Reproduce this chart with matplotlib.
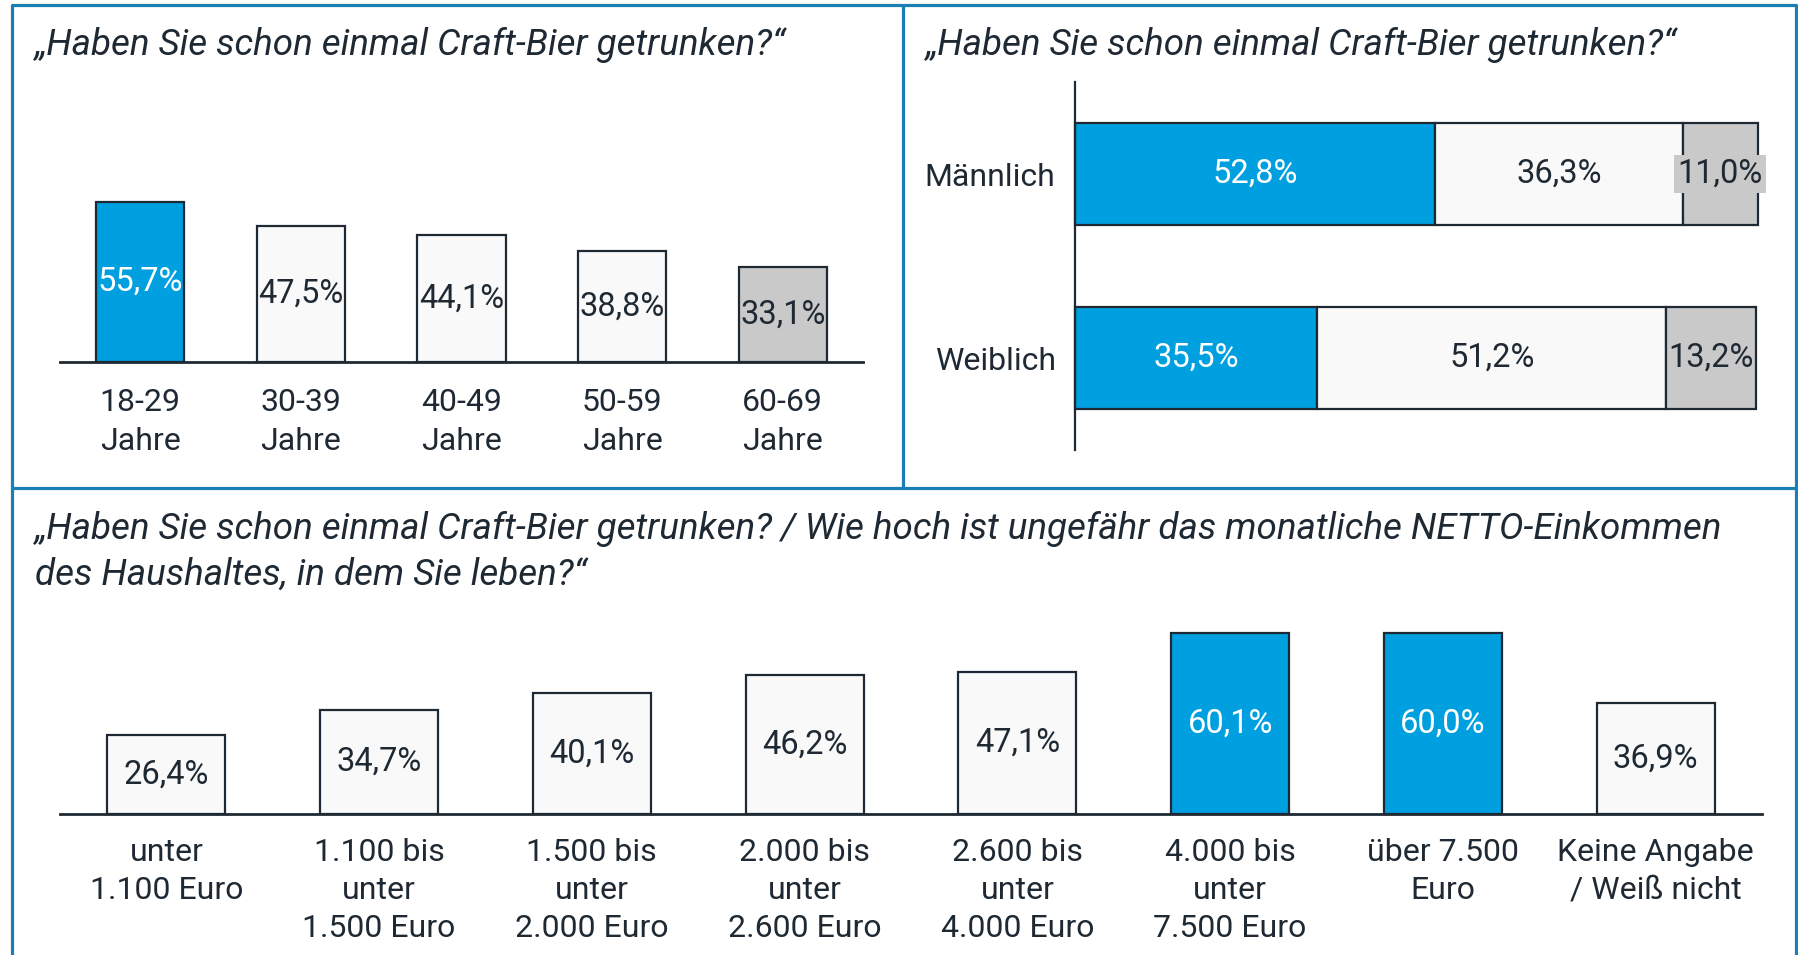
#!/usr/bin/env python
# coding: utf-8

r"""Craft-Bier survey charts"""

import matplotlib.pyplot as plt
from matplotlib.lines import Line2D

plt.rcParams['font.family'] = ['Roboto', 'DejaVu Sans']

# data
age_labels = ['18-29\nJahre', '30-39\nJahre', '40-49\nJahre', '50-59\nJahre', '60-69\nJahre']
age_values = [55.7, 47.5, 44.1, 38.8, 33.1]
age_kinds = ['blue', 'light', 'light', 'light', 'gray']

sex_labels = ['Männlich', 'Weiblich']
sex_yes = [52.8, 35.5]
sex_no = [36.3, 51.2]
sex_na = [11.0, 13.2]

inc_labels = ['unter\n1.100 Euro', '1.100 bis\nunter\n1.500 Euro', '1.500 bis\nunter\n2.000 Euro',
              '2.000 bis\nunter\n2.600 Euro', '2.600 bis\nunter\n4.000 Euro', '4.000 bis\nunter\n7.500 Euro',
              'über 7.500\nEuro', 'Keine Angabe\n/ Weiß nicht']
inc_values = [26.4, 34.7, 40.1, 46.2, 47.1, 60.1, 60.0, 36.9]
inc_kinds = ['light'] * 5 + ['blue', 'blue', 'light']

title_1 = '„Haben Sie schon einmal Craft-Bier getrunken?“'
title_2 = ('„Haben Sie schon einmal Craft-Bier getrunken? / Wie hoch ist ungefähr das monatliche NETTO-Einkommen\n'
           'des Haushaltes, in dem Sie leben?“')

colors = {'blue': '#009fdf', 'light': '#f9f9f9', 'gray': '#c9c9c9'}
text_col = {'blue': 'white', 'light': '#1e2933', 'gray': '#1e2933'}
dark = '#1e2933'
frame = '#1a80b4'

W, H = 1799, 955
fig = plt.figure(figsize=(W / 100, H / 100), dpi=100)


def box(x0, y0, x1, y1):
    return [x0 / W, 1 - y1 / H, (x1 - x0) / W, (y1 - y0) / H]


def fline(xs, ys):
    fig.add_artist(Line2D([x / W for x in xs], [1 - y / H for y in ys],
                          color=frame, lw=2.3, solid_capstyle='butt'))


# frame
fline([12.5, 12.5, 1796, 1796], [970, 5, 5, 970])
fline([903.5, 903.5], [5, 488.5])
fline([12.5, 1796], [488.5, 488.5])

# titles
fig.text(35 / W, 1 - 45 / H, title_1, fontsize=26.5, style='italic', color=dark, va='center')
fig.text(926 / W, 1 - 45 / H, title_1, fontsize=26.5, style='italic', color=dark, va='center')
fig.text(35 / W, 1 - 552 / H, title_2, fontsize=26.5, style='italic', color=dark, va='center',
         linespacing=1.33)

LBL = 23.5
TICK = 23


def column_chart(rect, labels, values, kinds, scale, width, pad):
    x0, y0, x1, y1 = rect
    ax = fig.add_axes(box(x0, y0, x1, y1))
    ax.set_facecolor('none')
    n = len(values)
    xs = list(range(n))
    ax.bar(xs, values, width=width, color=[colors[k] for k in kinds],
           edgecolor=dark, linewidth=1.6, zorder=2)
    for x, v, k in zip(xs, values, kinds):
        ax.text(x, v / 2, ('%.1f%%' % v).replace('.', ','), ha='center', va='center',
                fontsize=LBL, color=text_col[k], zorder=3)
    ax.set_xlim(-0.5, n - 0.5)
    ax.set_ylim(0, (y1 - y0) / scale)
    for s in ('left', 'right', 'top'):
        ax.spines[s].set_visible(False)
    ax.spines['bottom'].set_linewidth(2)
    ax.spines['bottom'].set_color(dark)
    ax.spines['bottom'].set_zorder(4)
    ax.set_yticks([])
    ax.set_xticks(xs)
    ax.set_xticklabels(labels, fontsize=TICK, color=dark, linespacing=1.4)
    ax.tick_params(axis='x', length=0, pad=pad)
    return ax


column_chart((60, 82, 863, 362), age_labels, age_values, age_kinds, 2.87, 0.55, 19)
column_chart((60, 560, 1762, 814), inc_labels, inc_values, inc_kinds, 3.01, 0.555, 17)

# stacked horizontal bars
ax = fig.add_axes(box(1075, 82, 1757, 450))
ax.set_facecolor('none')
ys = list(range(len(sex_labels)))
left = [0.0] * len(ys)
for vals, kind in ((sex_yes, 'blue'), (sex_no, 'light'), (sex_na, 'gray')):
    ax.barh(ys, vals, left=left, height=0.556, color=colors[kind], edgecolor=dark,
            linewidth=1.6, zorder=2, clip_on=False)
    for y, l, v in zip(ys, left, vals):
        bb = None
        if v < 12:
            bb = dict(boxstyle='square,pad=0.1', facecolor=colors[kind], edgecolor='none')
        ax.text(l + v / 2, y, ('%.1f%%' % v).replace('.', ','), ha='center', va='center',
                fontsize=LBL, color=text_col[kind], zorder=3, bbox=bb, clip_on=False)
    left = [a + b for a, b in zip(left, vals)]
ax.set_xlim(0, 100)
ax.set_ylim(1.5, -0.5)
for s in ('bottom', 'right', 'top'):
    ax.spines[s].set_visible(False)
ax.spines['left'].set_linewidth(1.6)
ax.spines['left'].set_color(dark)
ax.set_xticks([])
ax.set_yticks(ys)
ax.set_yticklabels(sex_labels, fontsize=TICK, color=dark)
ax.tick_params(axis='y', length=0, pad=14)

fig.savefig('out.png', dpi=100)
